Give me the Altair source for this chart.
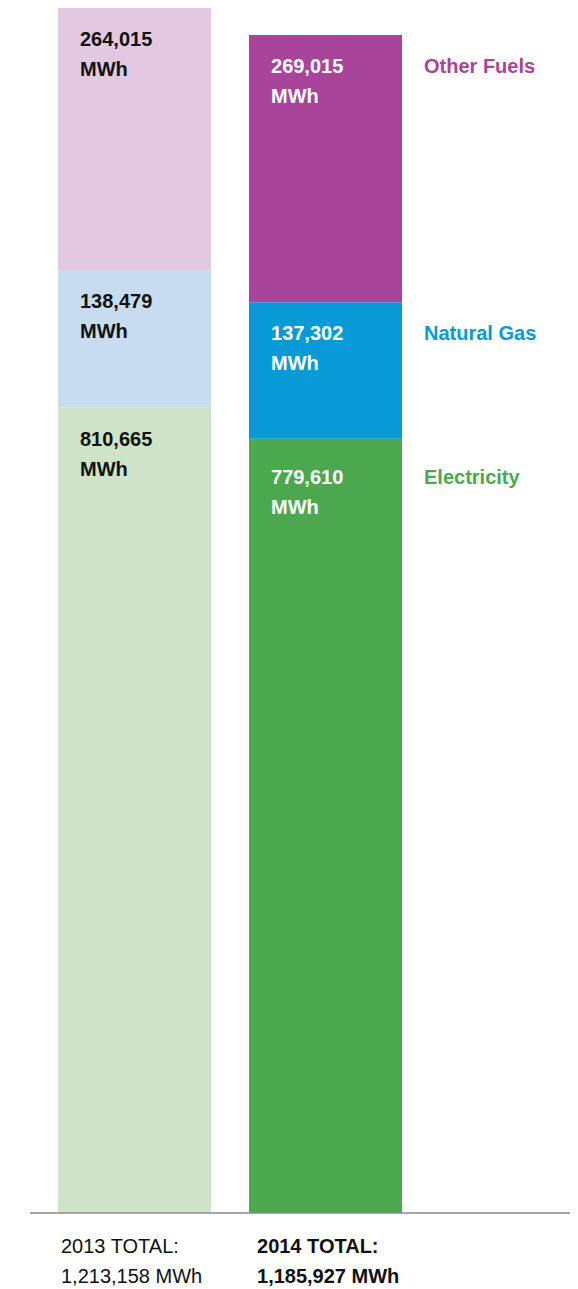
import altair as alt
import pandas as pd

years = ["2013", "2014"]
fuels = ["Electricity", "Natural Gas", "Other Fuels"]
values_2013 = [810665, 138479, 264015]
values_2014 = [779610, 137302, 269015]
value_labels_2013 = ["810,665", "138,479", "264,015"]
value_labels_2014 = ["779,610", "137,302", "269,015"]
total_labels = ["1,213,158 MWh", "1,185,927 MWh"]
total_titles = ["2013 TOTAL:", "2014 TOTAL:"]

colors_2013 = ["#cfe3c9", "#c8dcf0", "#e3c8e2"]
colors_2014 = ["#4ca84f", "#079ad6", "#a8459a"]

rows = []
for year, vals, labs, cols in [("2013", values_2013, value_labels_2013, colors_2013),
                               ("2014", values_2014, value_labels_2014, colors_2014)]:
    cum = 0
    for i, (f, v, l, c) in enumerate(zip(fuels, vals, labs, cols)):
        cum += v
        rows.append({"year": year, "fuel": f, "value": v, "label": l,
                     "key": year + " " + f, "order": i, "top": cum})
df = pd.DataFrame(rows)

keys = [r["key"] for r in rows]
key_colors = colors_2013 + colors_2014
ymax = max(df[df.year == y]["value"].sum() for y in years)

FONT = "Liberation Sans"
FS = 20

xscale = alt.Scale(domain=years, range=[50, 394], paddingInner=0.199, paddingOuter=0)
yscale = alt.Scale(domain=[0, ymax], nice=False, zero=True)
cscale = alt.Scale(domain=keys, range=key_colors)

bars = alt.Chart(df).mark_bar().encode(
    x=alt.X("year:N", scale=xscale, axis=None),
    y=alt.Y("value:Q", stack="zero", scale=yscale, axis=None),
    color=alt.Color("key:N", scale=cscale, legend=None),
    order=alt.Order("order:Q"),
)


def seg_layers(sub, color, dy):
    enc = dict(
        x=alt.X("year:N", bandPosition=0, scale=xscale, axis=None),
        y=alt.Y("top:Q", scale=yscale, axis=None),
    )
    a = alt.Chart(sub).mark_text(
        align="left", baseline="middle", dx=22, dy=dy, font=FONT, fontSize=FS,
        fontWeight="bold", color=color
    ).encode(text="label:N", **enc)
    b = alt.Chart(sub).transform_calculate(u="'MWh'").mark_text(
        align="left", baseline="middle", dx=22, dy=dy + 30, font=FONT, fontSize=FS,
        fontWeight="bold", color=color
    ).encode(text="u:N", **enc)
    return [a, b]


def name_layer(sub, dy):
    return alt.Chart(sub).mark_text(
        align="left", baseline="middle", dx=175, dy=dy, font=FONT, fontSize=FS,
        fontWeight="bold"
    ).encode(
        x=alt.X("year:N", bandPosition=0, scale=xscale, axis=None),
        y=alt.Y("top:Q", scale=yscale, axis=None),
        text="fuel:N",
        color=alt.Color("key:N", scale=cscale, legend=None),
    )


d13 = df[df.year == "2013"]
d14 = df[df.year == "2014"]
d14_main = d14[d14.fuel != "Electricity"]
d14_elec = d14[d14.fuel == "Electricity"]

texts = (seg_layers(d13, "#111111", 32)
         + seg_layers(d14_main, "#ffffff", 32)
         + seg_layers(d14_elec, "#ffffff", 39)
         + [name_layer(d14_main, 32), name_layer(d14_elec, 39)])

tot_df = pd.DataFrame({"year": years, "title": total_titles, "total": total_labels, "zero": [0, 0]})


def total_text(year, field, dx, dy, weight):
    return alt.Chart(tot_df[tot_df.year == year]).mark_text(
        align="left", baseline="middle", dx=dx, dy=dy, font=FONT, fontSize=FS,
        fontWeight=weight, color="#111111"
    ).encode(
        x=alt.X("year:N", bandPosition=0, scale=xscale, axis=None),
        y=alt.Y("zero:Q", scale=yscale, axis=None),
        text=field,
    )


tots = [
    total_text("2013", "title:N", 3, 34, "normal"),
    total_text("2013", "total:N", 3, 64, "normal"),
    total_text("2014", "title:N", 8, 34, "bold"),
    total_text("2014", "total:N", 8, 64, "bold"),
]

axis_rule = alt.Chart(tot_df.head(1)).mark_rule(color="#8a8a8a", strokeWidth=1.5).encode(
    y=alt.Y("zero:Q", scale=yscale, axis=None),
    x=alt.value(22), x2=alt.value(562),
)

chart = alt.layer(bars, axis_rule, *texts, *tots).properties(
    width=562, height=1205,
    padding={"left": 0, "top": 0, "right": 0, "bottom": 82},
    autosize=alt.AutoSizeParams(type="none"),
).configure_view(stroke=None)

chart.save("out.html", embed_options={"renderer": "svg", "actions": False})
